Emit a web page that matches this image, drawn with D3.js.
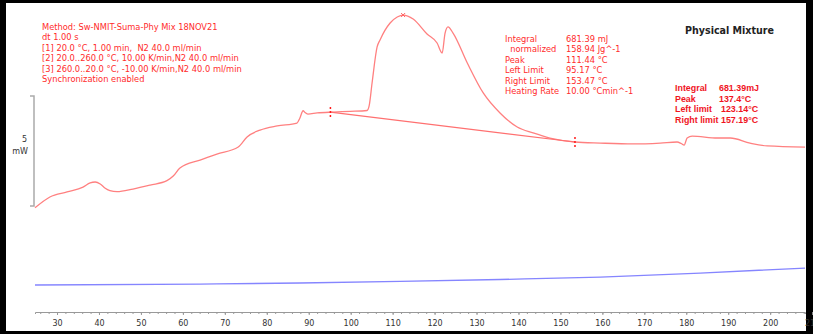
<!DOCTYPE html>
<meta charset="utf-8">
<style>
    body {
        margin: 0;
        padding: 0;
        background: #000;
    }
    svg text {
        font-family: "DejaVu Sans", Verdana, sans-serif;
    }
    .red { fill: #ff2b2b; font-size: 8.3px; }
    .redb { fill: #f0141e; font-size: 8.9px; font-weight: bold; font-family: "Liberation Sans", Arial, sans-serif !important; }
    .tick text { fill: #333; font-size: 8px; }
</style>

<body>

<script src="https://cdn.jsdelivr.net/npm/d3@7"></script>

<script>

// DSC heat flow (red), temperature in degC and signal in mW
var redT = [24.75, 28.3, 32.4, 36.2, 37.9, 39.1, 40.3, 41.4, 42.6, 44.3, 48.1, 52.2, 56.2, 57.7, 59.3,
  64.1, 68.1, 73.2, 75.3, 78.4, 82.5, 87.2, 87.9, 88.65, 89.1, 89.8, 92.0, 95.8, 99.9, 103.9, 104.4,
  105.1, 106.3, 107.0, 109.4, 111.1, 112.5, 114.9, 118.2, 120.6, 121.8, 122.5, 123.2, 124.4, 127.8,
  131.6, 135.6, 139.7, 143.5, 147.5, 153.5, 159.5, 167.3, 173.8, 177.8, 178.8, 179.5, 180.2, 181.4,
  187.4, 190.5, 195.2, 199.3, 208.3];
var redMW = [-0.08, 0.41, 0.64, 0.86, 1.05, 1.09, 1.0, 0.82, 0.70, 0.65, 0.77, 0.95, 1.15, 1.36, 1.73,
  2.09, 2.36, 2.68, 3.14, 3.45, 3.64, 3.77, 4.0, 4.33, 4.25, 4.18, 4.23, 4.27, 4.30, 4.34, 4.55,
  5.59, 7.23, 7.55, 8.32, 8.59, 8.68, 8.5, 7.82, 7.41, 6.95, 7.86, 8.14, 7.86, 6.5,
  5.14, 4.23, 3.59, 3.32, 3.09, 2.91, 2.86, 2.82, 2.86, 2.91, 2.84, 2.77, 3.09, 3.18,
  3.09, 3.09, 2.86, 2.73, 2.68];

// second curve (blue)
var blueT = [24.75, 64.1, 87.9, 111.8, 135.6, 159.5, 183.3, 208.3];
var blueMW = [-3.59, -3.55, -3.5, -3.43, -3.34, -3.23, -3.05, -2.82];

// integration limits and baseline
var limitT = [95.17, 153.47];
var limitMW = [4.27, 2.91];

var tickLabels = [30, 40, 50, 60, 70, 80, 90, 100, 110, 120, 130, 140, 150, 160, 170, 180, 190, 200, 210];
var minorTicks = d3.range(26, 209, 2);

var methodLines = ["Method: Sw-NMIT-Suma-Phy Mix 18NOV21", "dt 1.00 s",
  "[1] 20.0 °C, 1.00 min,  N2 40.0 ml/min",
  "[2] 20.0..260.0 °C, 10.00 K/min,N2 40.0 ml/min",
  "[3] 260.0..20.0 °C, -10.00 K/min,N2 40.0 ml/min",
  "Synchronization enabled"];
var resultLabels = ["Integral", "  normalized", "Peak", "Left Limit", "Right Limit", "Heating Rate"];
var resultValues = ["681.39 mJ", "158.94 Jg^-1", "111.44 °C", "95.17 °C", "153.47 °C", "10.00 °Cmin^-1"];
var boxLabels = ["Integral", "Peak", "Left limit", "Right limit"];
var boxValues = ["681.39mJ", "137.4°C", "123.14°C", "157.19°C"];

var width = 813,
  height = 334;

var svg = d3.select("body").append("svg")
    .attr("width", width)
    .attr("height", height)
    .style("display", "block");

svg.append("rect")
    .attr("width", width).attr("height", height).attr("fill", "#000");
svg.append("rect")
    .attr("x", 6).attr("y", 3).attr("width", 800).attr("height", 328).attr("fill", "#fff");

var x = d3.scaleLinear()
    .domain([24.75, 208.3])
    .range([35, 805]);

var y = d3.scaleLinear()
    .domain([-5, 9])
    .range([316, 8]);

// x axis
var axisY = 312;
svg.append("g")
    .attr("transform", "translate(0," + axisY + ")")
    .call(d3.axisBottom(x).tickValues(minorTicks).tickSize(2).tickFormat(""))
    .call(g => g.select(".domain").attr("stroke", "#999"))
    .call(g => g.selectAll(".tick line").attr("stroke", "#999"));

svg.append("g")
    .attr("transform", "translate(0," + axisY + ")")
    .call(d3.axisBottom(x).tickValues(tickLabels).tickSize(3).tickPadding(5).tickFormat(d3.format("d")))
    .call(g => g.select(".domain").remove())
    .call(g => g.selectAll(".tick line").attr("stroke", "#999"));

// 5 mW scale bracket
var bracket = svg.append("g").attr("stroke", "#aaa").attr("stroke-width", 1.5).attr("fill", "none");
bracket.append("path")
    .attr("d", "M30," + y(5) + "H34V" + y(0) + "H30");
svg.append("text").attr("x", 27).attr("y", 142).attr("text-anchor", "end")
    .attr("font-size", 8).attr("fill", "#333").text("5");
svg.append("text").attr("x", 28).attr("y", 154).attr("text-anchor", "end")
    .attr("font-size", 8).attr("fill", "#333").text("mW");

// curves
var line = d3.line()
    .x(d => x(d[0]))
    .y(d => y(d[1]))
    .curve(d3.curveMonotoneX);

svg.append("path")
    .attr("d", line(blueT.map((t, i) => [t, blueMW[i]])))
    .attr("fill", "none")
    .attr("stroke", "#8585ff")
    .attr("stroke-width", 1.3);

svg.append("path")
    .attr("d", line(redT.map((t, i) => [t, redMW[i]])))
    .attr("fill", "none")
    .attr("stroke", "#ff8080")
    .attr("stroke-width", 1.3);

// baseline between limits
svg.append("line")
    .attr("x1", x(limitT[0])).attr("y1", y(limitMW[0]))
    .attr("x2", x(limitT[1])).attr("y2", y(limitMW[1]))
    .attr("stroke", "#ff7070").attr("stroke-width", 1.2);

// limit markers
limitT.forEach((t, i) => {
  var cx = x(t), cy = y(limitMW[i]);
  svg.append("line")
      .attr("x1", cx).attr("x2", cx)
      .attr("y1", cy - 5).attr("y2", cy + 5)
      .attr("stroke", "#ff1a1a").attr("stroke-width", 1.5)
      .attr("stroke-dasharray", "2,2");
});

// peak marker
var peakI = d3.maxIndex(redMW);
var px = x(redT[peakI]), py = y(redMW[peakI]);
svg.append("path")
    .attr("d", "M" + (px - 2) + "," + (py - 2) + "L" + (px + 2) + "," + (py + 2) +
      "M" + (px + 2) + "," + (py - 2) + "L" + (px - 2) + "," + (py + 2))
    .attr("stroke", "#ff6060").attr("stroke-width", 1);

// method text
svg.append("g").selectAll("text")
  .data(methodLines)
  .join("text")
    .attr("class", "red")
    .attr("x", 42)
    .attr("y", (d, i) => 30 + i * 10.4)
    .attr("xml:space", "preserve")
    .text(d => d);

// integration result text
svg.append("g").selectAll("text")
  .data(resultLabels)
  .join("text")
    .attr("class", "red")
    .attr("x", 505)
    .attr("y", (d, i) => 42 + i * 10.4)
    .attr("xml:space", "preserve")
    .text(d => d);
svg.append("g").selectAll("text")
  .data(resultValues)
  .join("text")
    .attr("class", "red")
    .attr("x", 566)
    .attr("y", (d, i) => 42 + i * 10.4)
    .text(d => d);

// title
svg.append("text")
    .attr("x", 685).attr("y", 34)
    .attr("font-size", 10).attr("font-weight", "bold").attr("fill", "#222")
    .attr("textLength", 89).attr("lengthAdjust", "spacingAndGlyphs")
    .text("Physical Mixture");

// pasted result box
svg.append("g").selectAll("text")
  .data(boxLabels)
  .join("text")
    .attr("class", "redb")
    .attr("x", 675)
    .attr("y", (d, i) => 91 + i * 10.6)
    .text(d => d);
svg.append("g").selectAll("text")
  .data(boxValues)
  .join("text")
    .attr("class", "redb")
    .attr("x", (d, i) => i < 2 ? 719 : 721)
    .attr("y", (d, i) => 91 + i * 10.6)
    .text(d => d);

</script>
